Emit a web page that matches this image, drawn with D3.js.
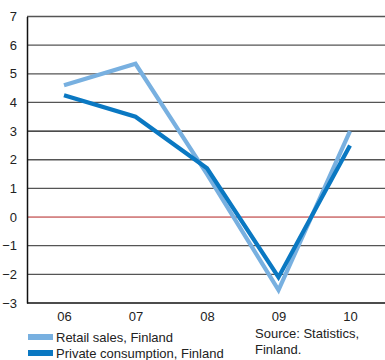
<!DOCTYPE html>
<html>
<head>
<meta charset="utf-8">
<script src="https://cdn.jsdelivr.net/npm/d3@7"></script>
<style>
  body { margin: 0; background: #fff; }
  text { font-family: "Liberation Sans", Arial, sans-serif; fill: #222; }
</style>
</head>
<body>
<svg id="chart" width="385" height="360"></svg>
<script>
const years = ['06', '07', '08', '09', '10'];
const retailSales = [4.6, 5.35, 1.5, -2.55, 3.0];
const privateConsumption = [4.25, 3.5, 1.7, -2.1, 2.5];
const yTicks = [7, 6, 5, 4, 3, 2, 1, 0, -1, -2, -3];
const seriesNames = ['Retail sales, Finland', 'Private consumption, Finland'];
const sourceLines = ['Source: Statistics,', 'Finland.'];

const svg = d3.select('#chart');
const left = 27;
const right = 385;

const x = d3.scalePoint().domain(years).range([64, 350]);
const y = d3.scaleLinear().domain([-3, 7]).range([303, 16.5]);

// grid lines
svg.append('g')
  .selectAll('line')
  .data(yTicks.filter(d => d !== -3))
  .enter()
  .append('line')
  .attr('x1', left)
  .attr('x2', right)
  .attr('y1', d => y(d))
  .attr('y2', d => y(d))
  .attr('stroke', d => (d === 0 ? '#b22222' : d === 3 ? '#111' : '#555'))
  .attr('stroke-width', d => (d === 0 ? 1 : 1.3));

// y axis
const yAxis = svg.append('g')
  .attr('transform', `translate(${left},0)`)
  .call(d3.axisLeft(y).tickValues(yTicks).tickSize(0).tickPadding(10).tickFormat(d3.format('d')));
yAxis.select('.domain').attr('stroke', '#111').attr('stroke-width', 1.5);
yAxis.selectAll('text').attr('font-size', 13).attr('font-family', '"Liberation Sans", Arial, sans-serif').attr('fill', '#222');

// x axis
const xAxis = svg.append('g')
  .attr('transform', `translate(0,${y(-3)})`)
  .call(d3.axisBottom(x).tickSize(0).tickPadding(9));
xAxis.select('.domain').attr('d', `M${left},0H${right}`).attr('stroke', '#111').attr('stroke-width', 1.5);
xAxis.selectAll('text').attr('font-size', 13).attr('font-family', '"Liberation Sans", Arial, sans-serif').attr('fill', '#222');

const line = d3.line()
  .x((d, i) => x(years[i]))
  .y(d => y(d));

svg.append('path')
  .datum(retailSales)
  .attr('d', line)
  .attr('fill', 'none')
  .attr('stroke', '#78b0e0')
  .attr('stroke-width', 4.2);

svg.append('path')
  .datum(privateConsumption)
  .attr('d', line)
  .attr('fill', 'none')
  .attr('stroke', '#0a78c2')
  .attr('stroke-width', 4.2);

// legend
const colors = ['#78b0e0', '#0a78c2'];
const legend = svg.append('g')
  .selectAll('g')
  .data(seriesNames)
  .enter()
  .append('g')
  .attr('transform', (d, i) => `translate(28,${337 + i * 16})`);
legend.append('rect')
  .attr('x', 0)
  .attr('y', -3)
  .attr('width', 25)
  .attr('height', 6)
  .attr('fill', (d, i) => colors[i]);
legend.append('text')
  .attr('x', 28)
  .attr('y', 5)
  .attr('font-size', 13)
  .text(d => d);

svg.append('g')
  .selectAll('text')
  .data(sourceLines)
  .enter()
  .append('text')
  .attr('x', 255)
  .attr('y', (d, i) => 338 + i * 16)
  .attr('font-size', 13)
  .text(d => d);
</script>
</body>
</html>
